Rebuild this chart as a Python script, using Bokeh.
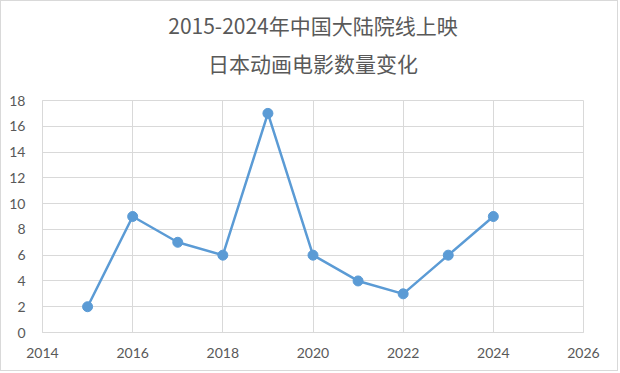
from bokeh.plotting import figure
from bokeh.models import Title, Range1d, FixedTicker
from bokeh.embed import file_html
from bokeh.resources import INLINE

years = [2015, 2016, 2017, 2018, 2019, 2020, 2021, 2022, 2023, 2024]
counts = [2, 9, 7, 6, 17, 6, 4, 3, 6, 9]
x_ticks = [2014, 2016, 2018, 2020, 2022, 2024, 2026]
y_ticks = [0, 2, 4, 6, 8, 10, 12, 14, 16, 18]
title_lines = ["2015-2024年中国大陆院线上映", "日本动画电影数量变化"]

p = figure(width=618, height=371, output_backend="svg", toolbar_location=None,
           x_range=Range1d(2014, 2026), y_range=Range1d(0, 18),
           min_border_left=41, min_border_right=36, min_border_top=10,
           min_border_bottom=40, title=None,
           styles={"border": "1px solid #d9d9d9"})

# spacer between the title block and the plot frame
p.add_layout(Title(text=" ", text_font_size="1px", standoff=19), "above")
standoffs = [1, 12]
for t, s in zip(reversed(title_lines), standoffs):
    p.add_layout(Title(text=t, align="center", text_font="Noto Sans CJK SC",
                       text_font_size="21px", text_font_style="normal",
                       text_color="#595959", standoff=s), "above")

p.line(years, counts, line_color="#5b9bd5", line_width=2.5)
p.scatter(years, counts, size=10, fill_color="#5b9bd5", line_color="#5b9bd5")

for ax in (p.xaxis[0], p.yaxis[0]):
    ax.axis_line_color = "#d9d9d9"
    ax.major_tick_line_color = None
    ax.minor_tick_line_color = None
    ax.major_label_text_color = "#595959"
    ax.major_label_text_font = "Lato"
    ax.major_label_text_font_size = "14px"
p.xaxis[0].ticker = FixedTicker(ticks=x_ticks)
p.yaxis[0].ticker = FixedTicker(ticks=y_ticks)
p.xaxis[0].major_label_standoff = 9
p.yaxis[0].major_label_standoff = 11

p.xgrid.grid_line_color = "#d9d9d9"
p.ygrid.grid_line_color = "#d9d9d9"
p.xgrid.ticker = FixedTicker(ticks=x_ticks)
p.ygrid.ticker = FixedTicker(ticks=y_ticks)
p.outline_line_color = "#d9d9d9"

open("out.html", "w").write(file_html(p, INLINE))
